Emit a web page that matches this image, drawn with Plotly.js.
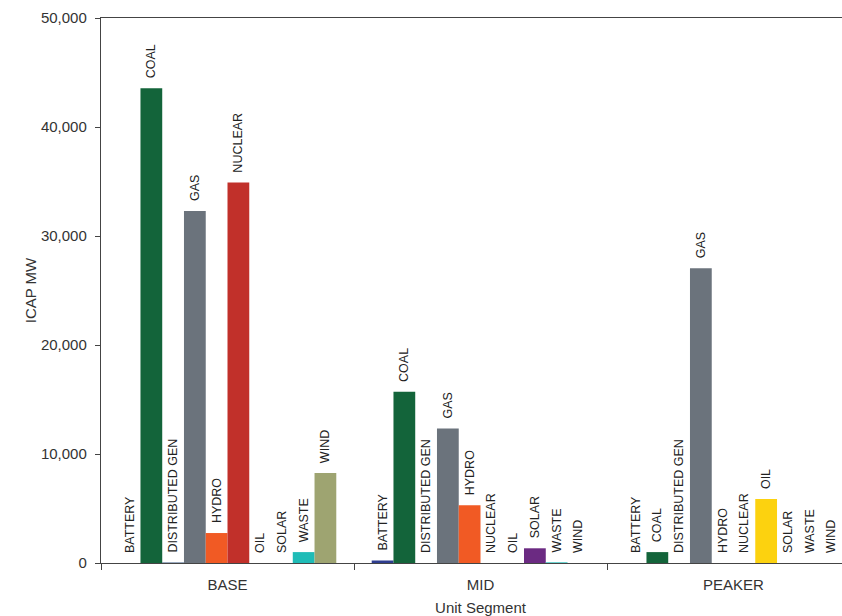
<!DOCTYPE html>
<html>
<head>
<meta charset="utf-8">
<script src="https://cdn.plot.ly/plotly-3.0.1.min.js"></script>
<style>
  html, body { margin: 0; padding: 0; overflow: hidden; background: #fff; }
  #chart { width: 860px; height: 616px; }
</style>
</head>
<body>
<div id="chart"></div>
<script>
const categories = ['BASE', 'MID', 'PEAKER'];
const seriesNames = ['BATTERY', 'COAL', 'DISTRIBUTED GEN', 'GAS', 'HYDRO', 'NUCLEAR', 'OIL', 'SOLAR', 'WASTE', 'WIND'];
const battery  = [0, 230, 0];
const coal     = [43550, 15700, 1000];
const distGen  = [40, 0, 0];
const gas      = [32300, 12350, 27050];
const hydro    = [2750, 5300, 0];
const nuclear  = [34900, 0, 0];
const oil      = [0, 0, 5870];
const solar    = [0, 1350, 0];
const waste    = [1000, 60, 0];
const wind     = [8250, 0, 0];
const seriesColors = ['#2e3d8f', '#13643a', '#1d3f6e', '#6b737c', '#f15a24', '#c1302a', '#fcd20f', '#6b2a82', '#1fbcb7', '#9ea471'];
const tickValues = [0, 10000, 20000, 30000, 40000, 50000];

const values = [battery, coal, distGen, gas, hydro, nuclear, oil, solar, waste, wind];
const FONT = '"Liberation Sans", Arial, sans-serif';

const traces = seriesNames.map((name, i) => ({
  type: 'bar',
  name: name,
  x: categories,
  y: values[i],
  text: categories.map(() => name),
  texttemplate: '\u00a0\u00a0%{text}',
  textposition: 'outside',
  textangle: -90,
  cliponaxis: false,
  constraintext: 'none',
  textfont: { family: FONT, size: 12.5, color: '#222' },
  marker: { color: seriesColors[i] },
  hoverinfo: 'name+y'
}));

const layout = {
  width: 860,
  height: 616,
  margin: { l: 101, r: 0, t: 18, b: 53 },
  paper_bgcolor: '#fff',
  plot_bgcolor: '#fff',
  showlegend: false,
  barmode: 'group',
  bargap: 0.14,
  bargroupgap: 0,
  font: { family: FONT, size: 15, color: '#333' },
  xaxis: {
    type: 'category',
    showline: true,
    linecolor: '#444',
    linewidth: 1.2,
    mirror: true,
    ticks: 'outside',
    tickson: 'boundaries',
    ticklen: 6,
    tickcolor: '#444',
    showgrid: false,
    ticklabelstandoff: 8,
    tickfont: { family: FONT, size: 15, color: '#333' },
    title: { text: 'Unit Segment', font: { family: FONT, size: 15, color: '#333' }, standoff: 14 }
  },
  yaxis: {
    range: [0, 50000],
    tickvals: tickValues,
    tickformat: ',d',
    showline: true,
    linecolor: '#444',
    linewidth: 1.2,
    ticks: 'outside',
    ticklen: 5,
    tickcolor: '#444',
    showgrid: false,
    zeroline: false,
    ticklabelstandoff: 5,
    tickfont: { family: FONT, size: 15, color: '#333' },
    title: { text: 'ICAP MW', font: { family: FONT, size: 15, color: '#333' }, standoff: 0 }
  }
};

Plotly.newPlot('chart', traces, layout, { displayModeBar: false, staticPlot: true });
</script>
</body>
</html>
